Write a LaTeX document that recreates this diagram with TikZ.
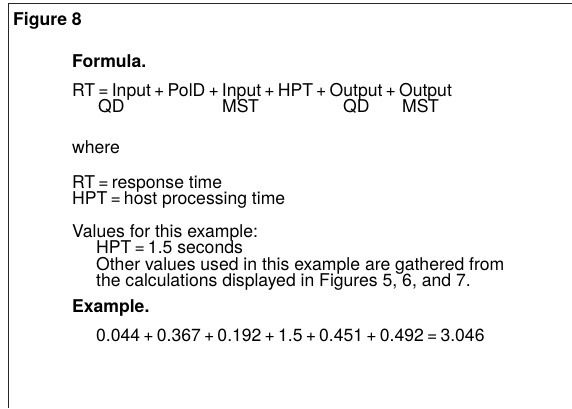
\documentclass[tikz,border=0pt]{standalone}
\usepackage{fontspec}
\setmainfont{TeX Gyre Heros}
% operators set with narrow side space, as in the formula lines
\newcommand{\opr}[1]{\hspace{0.18em}#1\hspace{0.18em}}
\begin{document}
\begin{tikzpicture}[x=1pt,y=-1pt,
  txt/.style={anchor=base west,inner sep=0pt,font=\fontsize{17.6}{17.6}\selectfont},
  head/.style={txt,font=\fontsize{17.6}{17.6}\selectfont\bfseries},
  frame/.style={line width=1.2pt,black!85}]
\useasboundingbox (0,0) rectangle (572,408);
% open frame: top rule and left rule only
\coordinate (tl) at (8.5,3.5);
\coordinate (tr) at (572,3.5);
\coordinate (bl) at (8.5,408);
\draw[frame] (tr) -- (tl) -- (bl);

\node[head] (fig) at (13,25) {Figure 8};
\node[head] (formula) at (72,67) {Formula.};
\node[txt] (rt) at (72,96) {RT\opr{=}Input\opr{+}PolD\opr{+}Input\opr{+}HPT\opr{+}Output\opr{+}Output};
\node[txt] (qd1) at (98,112.5) {QD};
\node[txt] (mst1) at (222,112.5) {MST};
\node[txt] (qd2) at (343,112.5) {QD};
\node[txt] (mst2) at (402,112.5) {MST};
\node[txt] (where) at (72,153) {where};
\node[txt] (rtdef) at (72,188) {RT\opr{=}response time};
\node[txt] (hptdef) at (72,204.5) {HPT\opr{=}host processing time};
\node[txt] (values) at (72,237) {Values for this example:};
\node[txt] (hptval) at (96,253.5) {HPT\opr{=}1.5 seconds};
\node[txt] (other1) at (96,270) {Other values used in this example are gathered from};
\node[txt] (other2) at (96,286.5) {the calculations displayed in Figures 5, 6, and 7.};
\node[head] (example) at (72,312) {Example.};
\node[txt] (sum) at (96,341) {0.044\opr{+}0.367\opr{+}0.192\opr{+}1.5\opr{+}0.451\opr{+}0.492\opr{=}3.046};
\end{tikzpicture}
\end{document}
